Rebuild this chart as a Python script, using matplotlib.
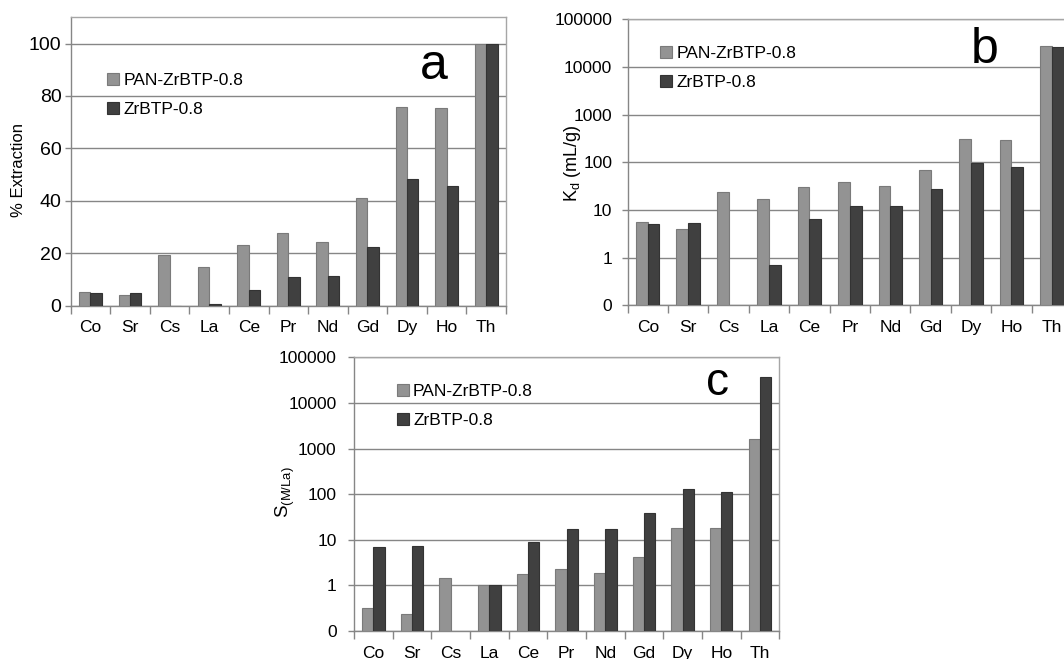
import matplotlib
matplotlib.use("Agg")
import matplotlib.pyplot as plt
import numpy as np

plt.rcParams['font.family'] = ['Liberation Sans', 'DejaVu Sans']
plt.rcParams['mathtext.default'] = 'regular'

elements = ['Co', 'Sr', 'Cs', 'La', 'Ce', 'Pr', 'Nd', 'Gd', 'Dy', 'Ho', 'Th']
series = ['PAN-ZrBTP-0.8', 'ZrBTP-0.8']

# % extraction
ext_pan = [5.2, 3.9, 19.5, 14.6, 23.2, 27.9, 24.3, 40.9, 75.8, 75.3, 100]
ext_zr = [4.7, 5.0, 0.0, 0.5, 6.0, 11.0, 11.2, 22.3, 48.5, 45.5, 100]

# distribution coefficients Kd (mL/g); nan = not detected
kd_pan = [5.5, 4.06, 23.9, 17.0, 29.9, 38.7, 31.9, 68, 309, 294, 27600]
kd_zr = [5.1, 5.4, np.nan, 0.71, 6.6, 12.1, 12.3, 28, 95, 81, 26700]

# separation factors vs La
sf_pan = [0.325, 0.24, 1.43, 1.0, 1.78, 2.29, 1.90, 4.12, 18.1, 17.8, 1625]
sf_zr = [6.95, 7.4, np.nan, 1.0, 8.95, 16.9, 17.3, 39.4, 128, 114, 37800]

log_ticks = [0.1, 1, 10, 100, 1000, 10000, 100000]
log_labels = ['0', '1', '10', '100', '1000', '10000', '100000']

c_light = '#939393'
c_dark = '#404040'
grid_c = '#868686'
frame_c = '#a6a6a6'

fig = plt.figure(figsize=(10.64, 6.59), dpi=100)


def panel(rect, pan, zr, letter, letter_xy, letter_size, leg_xy, ylabel, label_xy,
          ylabel_size, ytick_size, ytick_pad, log=False):
    ax = fig.add_axes(rect)
    x = np.arange(len(elements))
    w = 0.29
    base = 0.1 if log else 0
    pan = np.asarray(pan, dtype=float)
    zr = np.asarray(zr, dtype=float)
    b1 = ax.bar(x - w / 2, pan - base, w, bottom=base, color=c_light,
                edgecolor='#7a7a7a', linewidth=0.8, label=series[0], zorder=3)
    b2 = ax.bar(x + w / 2, zr - base, w, bottom=base, color=c_dark,
                edgecolor='#333333', linewidth=0.8, label=series[1], zorder=3)
    ax.set_xlim(-0.5, len(elements) - 0.5)
    if log:
        ax.set_yscale('log')
        ax.set_ylim(0.1, 100000)
        ax.set_yticks(log_ticks)
        ax.set_yticklabels(log_labels)
        ax.minorticks_off()
    else:
        ax.set_ylim(0, 110)
        ax.set_yticks([0, 20, 40, 60, 80, 100])
    ax.yaxis.grid(True, color=grid_c, linewidth=1.0, zorder=0)
    ax.set_axisbelow(True)

    # category labels in the middle, tick marks on the boundaries
    ax.set_xticks(x)
    ax.set_xticklabels(elements, fontsize=12.5)
    ax.set_xticks(np.arange(len(elements) + 1) - 0.5, minor=True)
    ax.tick_params(axis='x', which='major', length=0, pad=10.5)
    ax.tick_params(axis='x', which='minor', length=5.5, width=1, color=grid_c)
    ax.tick_params(axis='y', length=4, width=1, color=grid_c,
                   labelsize=ytick_size, pad=ytick_pad)

    for s in ['left', 'bottom']:
        ax.spines[s].set_color(grid_c)
        ax.spines[s].set_linewidth(1.0)
    for s in ['top', 'right']:
        ax.spines[s].set_color(frame_c)
        ax.spines[s].set_linewidth(1.0)

    ax.set_ylabel(ylabel, fontsize=ylabel_size)
    ax.yaxis.set_label_coords(*label_xy)

    ax.legend(handles=[b1, b2], loc='center left', bbox_to_anchor=leg_xy,
              frameon=False, fontsize=12.5, handlelength=0.7, handleheight=0.7,
              handletextpad=0.25, labelspacing=0.8, borderpad=0, borderaxespad=0)
    ax.text(letter_xy[0], letter_xy[1], letter, transform=ax.transAxes,
            fontsize=letter_size, ha='center', va='baseline')
    return ax


panel([0.0664, 0.5361, 0.4091, 0.4376], ext_pan, ext_zr, 'a', (0.835, 0.786), 36,
      (0.083, 0.732), '% Extraction', (-0.103, 0.47), 12, 14, 2.5)
panel([0.5898, 0.5367, 0.4178, 0.4340], kd_pan, kd_zr, 'b', (0.803, 0.847), 36,
      (0.073, 0.830), 'K$_d$ (mL/g)', (-0.100, 0.4976), 13, 12.5, 7, log=True)
panel([0.3327, 0.0425, 0.3997, 0.4153], sf_pan, sf_zr, 'c', (0.854, 0.862), 33,
      (0.100, 0.823), 'S$_{(M/La)}$', (-0.134, 0.508), 13.5, 12.5, 8.5, log=True)

fig.savefig('out.png', dpi=100)
